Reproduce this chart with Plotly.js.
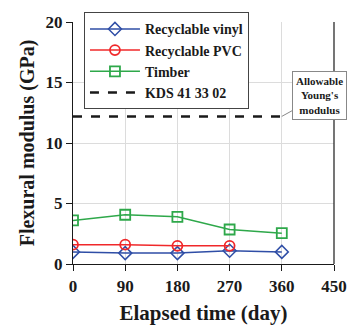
<!DOCTYPE html>
<html><head><meta charset="utf-8">
<script src="https://cdn.plot.ly/plotly-3.0.1.min.js"></script>
<style>html,body{margin:0;padding:0;background:#fff}#chart{width:351px;height:326px}</style>
</head><body><div id="chart"></div>
<script>
const days = [0, 90, 180, 270, 360];
const daysPVC = [0, 90, 180, 270];
const vinyl = [1.0, 0.9, 0.9, 1.1, 1.0];
const pvc = [1.6, 1.6, 1.5, 1.5];
const timber = [3.6, 4.07, 3.9, 2.85, 2.55];
const kdsDays = [0, 360];
const kds = [12.2, 12.2];
const xTicks = [0, 90, 180, 270, 360, 450];
const yTicks = [0, 5, 10, 15, 20];

const F = 'Liberation Serif, Times New Roman, serif';
const traces = [
  {x: days, y: vinyl, name: 'Recyclable vinyl', mode: 'lines+markers',
   line: {color: '#2f4ea6', width: 1.5},
   marker: {symbol: 'diamond-open', size: 10, color: '#2f4ea6', line: {width: 1.5}}},
  {x: daysPVC, y: pvc, name: 'Recyclable PVC', mode: 'lines+markers',
   line: {color: '#f0282a', width: 1.5},
   marker: {symbol: 'circle-open', size: 10, color: '#f0282a', line: {width: 1.8}}},
  {x: days, y: timber, name: 'Timber', mode: 'lines+markers',
   line: {color: '#2ea84a', width: 1.5},
   marker: {symbol: 'square-open', size: 10, color: '#2ea84a', line: {width: 1.8}}},
  {x: kdsDays, y: kds, name: 'KDS 41 33 02', mode: 'lines',
   line: {color: '#1a1a1a', width: 2.5, dash: 'dash'}}
];
const layout = {
  width: 351, height: 326,
  margin: {l: 73, r: 17, t: 18, b: 62},
  paper_bgcolor: '#fff', plot_bgcolor: '#fff',
  font: {family: F, color: '#1a1a1a'},
  showlegend: true,
  legend: {x: 0.042, y: 1.04, xanchor: 'left', yanchor: 'top',
    bgcolor: '#fff', bordercolor: '#444', borderwidth: 1,
    font: {family: F, size: 14, color: '#1a1a1a', weight: 'bold'},
    tracegroupgap: 0, itemwidth: 50},
  xaxis: {range: [0, 450], tickvals: xTicks, ticktext: xTicks.map(String),
    showgrid: true, gridcolor: '#dcdcdc', zeroline: false,
    showline: true, linecolor: '#1a1a1a', linewidth: 1.2,
    ticks: 'outside', ticklen: 6, tickcolor: '#1a1a1a',
    tickfont: {family: F, size: 17, weight: 'bold', color: '#1a1a1a'},
    title: {text: 'Elapsed time (day)', font: {family: F, size: 21, weight: 'bold', color: '#1a1a1a'}, standoff: 10}},
  yaxis: {range: [0, 20], tickvals: yTicks, ticktext: yTicks.map(String),
    showgrid: true, gridcolor: '#dcdcdc', zeroline: false,
    showline: true, linecolor: '#1a1a1a', linewidth: 1.2,
    ticks: 'outside', ticklen: 6, tickcolor: '#1a1a1a',
    tickfont: {family: F, size: 17, weight: 'bold', color: '#1a1a1a'},
    title: {text: 'Flexural modulus (GPa)', font: {family: F, size: 20, weight: 'bold', color: '#1a1a1a'}, standoff: 5}},
  shapes: [{type: 'line', xref: 'paper', yref: 'paper', x0: 1, x1: 1, y0: 0, y1: 1,
    line: {color: '#1a1a1a', width: 1.2}}],
  annotations: [{x: 360, y: 12.2, xref: 'x', yref: 'y',
    text: 'Allowable<br>Young\'s<br>modulus', showarrow: true, arrowhead: 0,
    arrowwidth: 1, arrowcolor: '#888', ax: 38, ay: -21,
    bordercolor: '#888', borderwidth: 1, borderpad: 3, bgcolor: '#fff',
    font: {family: F, size: 11, weight: 'bold', color: '#1a1a1a'}, align: 'center'}]
};
Plotly.newPlot('chart', traces, layout, {displayModeBar: false, staticPlot: true});
</script></body></html>
